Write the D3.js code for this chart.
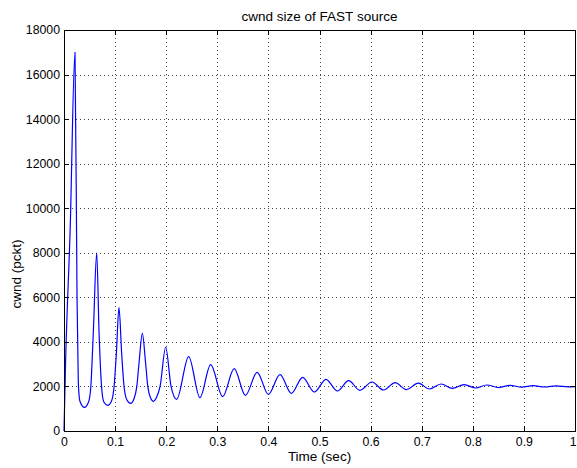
<!DOCTYPE html>
<html>
<head>
<meta charset="utf-8">
<script src="https://cdn.jsdelivr.net/npm/d3@7"></script>
<style>
  body { margin: 0; background: #fff; }
  text { font-family: "Liberation Sans", Arial, Helvetica, sans-serif; fill: #000; }
</style>
</head>
<body>
<svg id="chart" width="577" height="468"></svg>
<script>
// Congestion window of a FAST TCP source over the first second
const timeSec = [
  0, 0.003, 0.012, 0.0215, 0.0255, 0.028, 0.031, 0.040, 0.048, 0.0525,
  0.0575, 0.064, 0.0685, 0.0735, 0.078, 0.0855, 0.093, 0.098, 0.1025, 0.1076,
  0.1128, 0.1175, 0.123, 0.1305, 0.137, 0.1425, 0.147, 0.1533, 0.1595, 0.164,
  0.169, 0.175, 0.181, 0.188, 0.199, 0.2095, 0.2205, 0.244, 0.266, 0.287,
  0.3105, 0.333, 0.355, 0.378, 0.400, 0.4227, 0.445, 0.467, 0.490, 0.5127,
  0.535, 0.557, 0.579, 0.6027, 0.625, 0.648, 0.670, 0.6935, 0.715, 0.738,
  0.760, 0.783, 0.806, 0.827, 0.851, 0.873, 0.896, 0.918, 0.941, 0.963,
  0.987, 1.0
];
const cwndPckt = [
  0, 3000, 9000, 17000, 6000, 2200, 1350, 1060, 1300, 2000,
  4500, 8000, 4500, 2000, 1300, 1150, 1350, 2000, 3500, 5550,
  3500, 2000, 1400, 1240, 1450, 2000, 3100, 4385, 3100, 2000,
  1500, 1330, 1500, 2000, 3760, 2000, 1420, 3340, 1495, 2975,
  1540, 2800, 1600, 2635, 1645, 2530, 1690, 2410, 1750, 2320,
  1795, 2260, 1825, 2200, 1840, 2170, 1860, 2145, 1885, 2110,
  1915, 2080, 1930, 2065, 1950, 2050, 1965, 2035, 1975, 2025,
  1985, 1995
];
const xTicks = [0, 0.1, 0.2, 0.3, 0.4, 0.5, 0.6, 0.7, 0.8, 0.9, 1];
const yTicks = [0, 2000, 4000, 6000, 8000, 10000, 12000, 14000, 16000, 18000];
const titleText = "cwnd size of FAST source";
const xLabelText = "Time (sec)";
const yLabelText = "cwnd (pckt)";

const W = 577, H = 468;
const plot = { left: 64, right: 575, top: 30, bottom: 431 };

const svg = d3.select("#chart");
svg.append("rect").attr("width", W).attr("height", H).attr("fill", "#fff");

const x = d3.scaleLinear().domain([0, 1]).range([plot.left, plot.right]);
const y = d3.scaleLinear().domain([0, 18000]).range([plot.bottom, plot.top]);

const crisp = v => Math.round(v) + 0.5;

// dotted grid
const grid = svg.append("g").attr("stroke", "#444").attr("stroke-width", 1)
  .attr("stroke-dasharray", "1,3").attr("shape-rendering", "crispEdges");
grid.selectAll("line.v").data(xTicks.slice(1, -1)).join("line")
  .attr("x1", d => crisp(x(d))).attr("x2", d => crisp(x(d)))
  .attr("y1", plot.top).attr("y2", plot.bottom);
grid.selectAll("line.h").data(yTicks.slice(1, -1)).join("line")
  .attr("y1", d => crisp(y(d))).attr("y2", d => crisp(y(d)))
  .attr("x1", plot.left).attr("x2", plot.right);

// data line
const line = d3.line()
  .x((d, i) => x(timeSec[i]))
  .y(d => y(d))
  .curve(d3.curveMonotoneX);
svg.append("path")
  .attr("d", line(cwndPckt))
  .attr("fill", "none")
  .attr("stroke", "#0000ff")
  .attr("stroke-width", 1.2)
  .attr("stroke-linejoin", "round");

// axes with inward ticks on all four sides
const fmtX = d3.format("");
const tickFont = 12.3;
function styleAxis(g) {
  g.select(".domain").remove();
  g.selectAll(".tick line").attr("stroke", "#000").attr("shape-rendering", "crispEdges");
  g.selectAll("text").attr("font-size", tickFont).attr("font-family", null);
}
const xAxisG = svg.append("g").attr("transform", `translate(0,${plot.bottom})`)
  .call(d3.axisBottom(x).tickValues(xTicks).tickSize(-5).tickSizeOuter(0).tickPadding(6).tickFormat(fmtX))
  .call(styleAxis);
// keep the last label inside the page edge
xAxisG.selectAll(".tick text").filter(d => d === 1).attr("text-anchor", "end").attr("dx", 1);
svg.append("g").attr("transform", `translate(0,${plot.top})`)
  .call(d3.axisTop(x).tickValues(xTicks).tickSize(-5).tickSizeOuter(0).tickFormat(""))
  .call(styleAxis);
svg.append("g").attr("transform", `translate(${plot.left},0)`)
  .call(d3.axisLeft(y).tickValues(yTicks).tickSize(-5).tickSizeOuter(0).tickPadding(4).tickFormat(d3.format("d")))
  .call(styleAxis);
svg.append("g").attr("transform", `translate(${plot.right},0)`)
  .call(d3.axisRight(y).tickValues(yTicks).tickSize(-5).tickSizeOuter(0).tickFormat(""))
  .call(styleAxis);

// axes box
svg.append("rect")
  .attr("x", crisp(plot.left)).attr("y", crisp(plot.top))
  .attr("width", Math.round(plot.right - plot.left)).attr("height", Math.round(plot.bottom - plot.top))
  .attr("fill", "none").attr("stroke", "#000").attr("stroke-width", 1)
  .attr("shape-rendering", "crispEdges");

// title and axis labels
svg.append("text").attr("x", (plot.left + plot.right) / 2).attr("y", 21)
  .attr("text-anchor", "middle").attr("font-size", 13.5).text(titleText);
svg.append("text").attr("x", (plot.left + plot.right) / 2).attr("y", 461)
  .attr("text-anchor", "middle").attr("font-size", 13.5).text(xLabelText);
svg.append("text").attr("transform", "translate(21,274) rotate(-90)")
  .attr("text-anchor", "middle").attr("font-size", 13.5).text(yLabelText);
</script>
</body>
</html>
